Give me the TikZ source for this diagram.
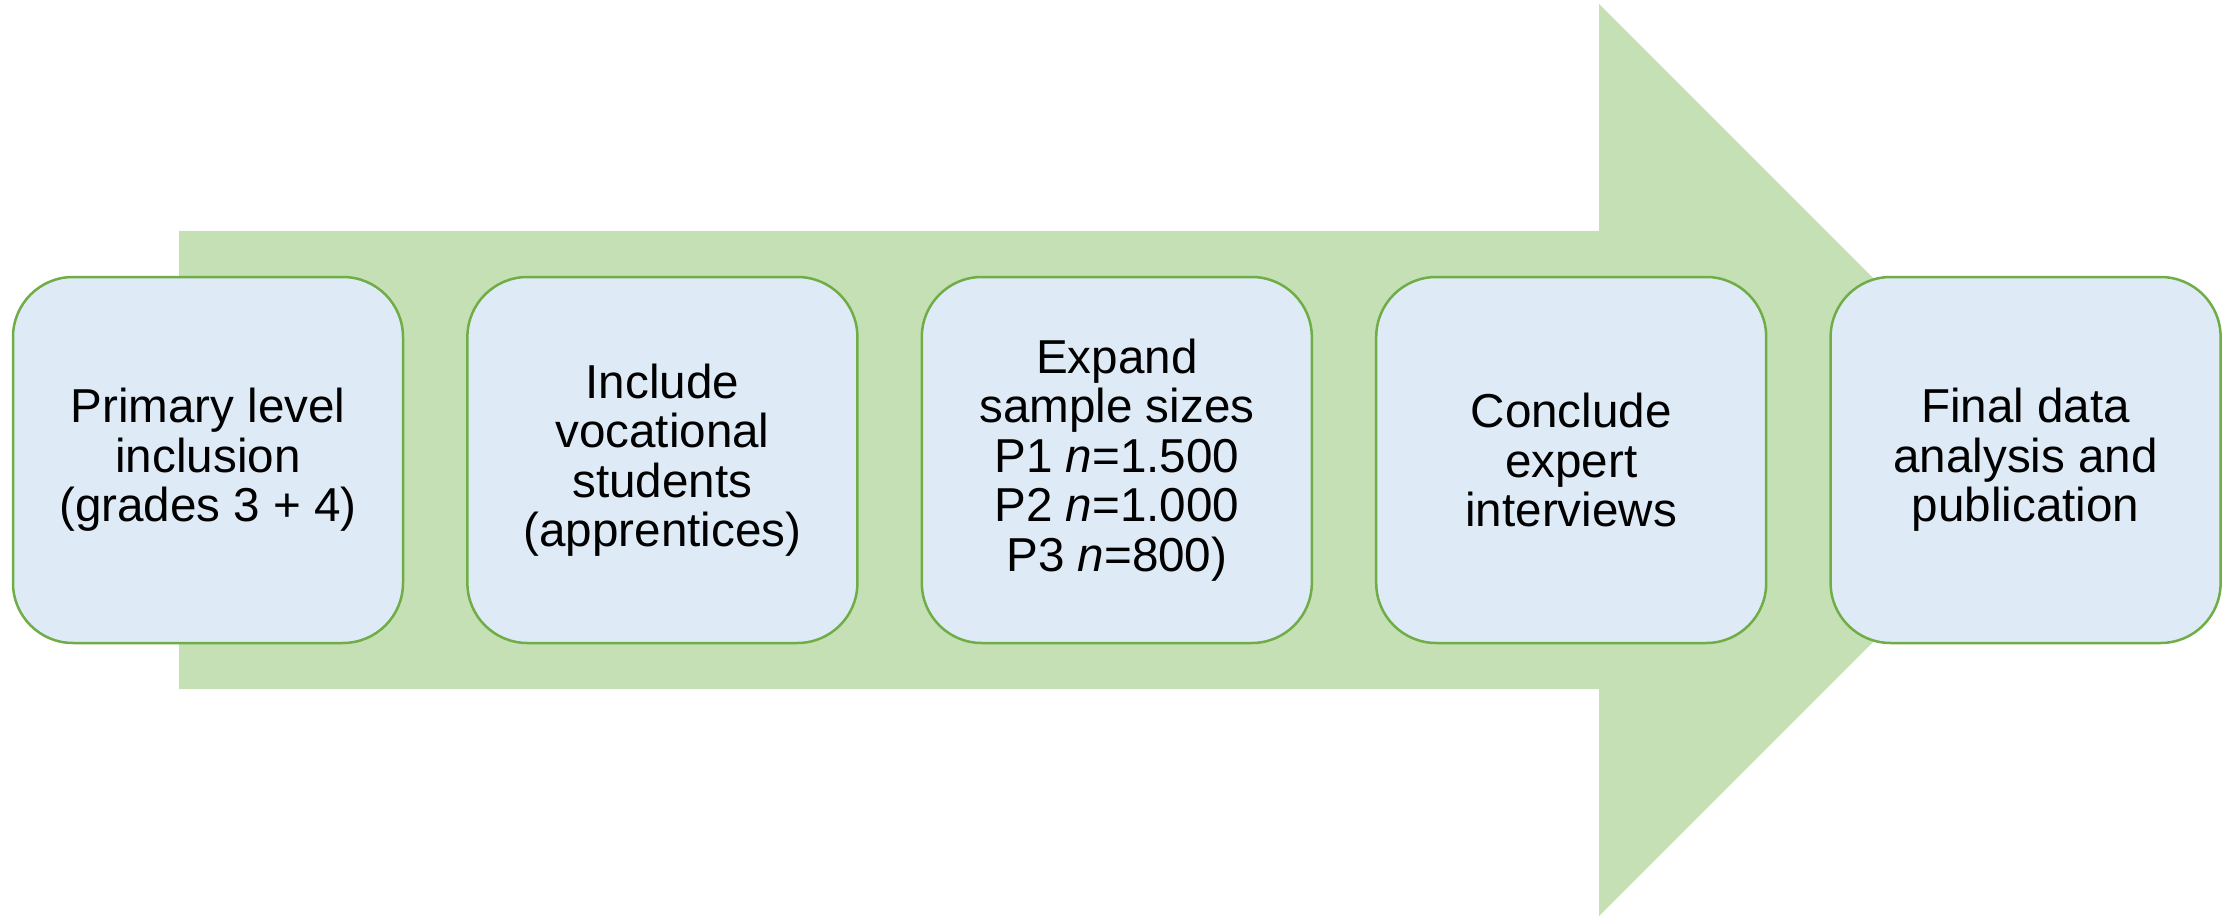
\documentclass[tikz,border=0pt]{standalone}
\usepackage{fontspec}
\setmainfont{Liberation Sans}
\definecolor{arrowgreen}{HTML}{C5E0B4}
\definecolor{boxfill}{HTML}{DEEBF7}
\definecolor{boxline}{HTML}{70AD47}
\begin{document}
\begin{tikzpicture}[x=1pt,y=-1pt,
  stepbox/.style={draw=boxline, fill=boxfill, line width=2.5pt, rounded corners=60pt,
    minimum width=390pt, minimum height=366pt, inner sep=0pt, align=center,
    font=\fontsize{47.6}{49.4}\selectfont}]
\useasboundingbox (0,0) rectangle (2226,917);
\fill[arrowgreen] (179,231) -- (1599,231) -- (1599,4) -- (2055,460) -- (1599,916) -- (1599,689) -- (179,689) -- cycle;
\node[stepbox] (s1) at (208,460) {Primary level\\inclusion\\(grades 3 + 4)};
\node[stepbox] (s2) at (662.4,460) {Include\\vocational\\students\\(apprentices)};
\node[stepbox] (s3) at (1116.8,460) {Expand\\sample sizes\\P1 \textit{n}=1.500\\P2 \textit{n}=1.000\\P3 \textit{n}=800)};
\node[stepbox] (s4) at (1571.2,460) {Conclude\\expert\\interviews};
\node[stepbox] (s5) at (2025.6,460) {Final data\\analysis and\\publication};
\end{tikzpicture}
\end{document}
